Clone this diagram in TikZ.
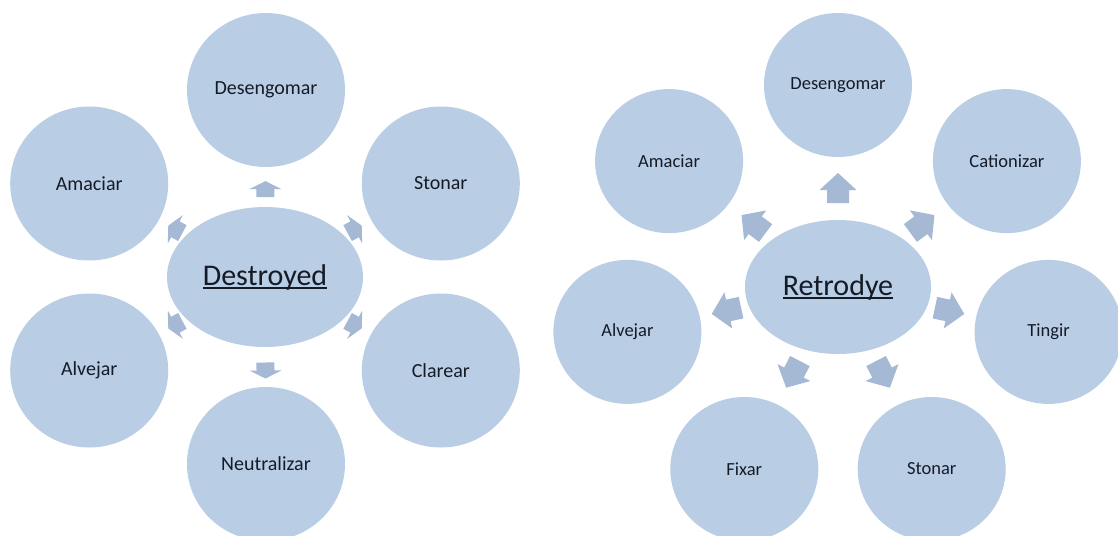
\documentclass[tikz,border=0pt]{standalone}
\usepackage{fontspec}
\setmainfont{Carlito}
\usetikzlibrary{shapes.geometric,calc}
\definecolor{fillc}{HTML}{B9CDE5}
\definecolor{arrc}{HTML}{A5B9D5}
\definecolor{txtc}{HTML}{151B26}
\newcommand\ulword[1]{\setbox0\hbox{#1}\rlap{\rule[-0.14em]{\wd0}{0.065em}}\box0}
\newcommand\placearrow[4]{%
  \path let \p1=($(#2.center)-(#1.center)$), \n1={atan2(\y1,\x1)} in
    ($(#1.center)!#3!(#2.center)$) pic[rotate=\n1] {#4};}
\tikzset{
  bubble/.style={ellipse, fill=fillc, draw=none, inner sep=0pt, text=txtc, align=center},
  lsat/.style={bubble, minimum width=158pt, minimum height=154pt, font=\fontsize{20}{24}\selectfont},
  rsat/.style={bubble, minimum width=148pt, minimum height=144pt, font=\fontsize{18.5}{22}\selectfont},
  lhub/.style={bubble, minimum width=196pt, minimum height=140pt, font=\fontsize{30}{36}\selectfont},
  rhub/.style={bubble, minimum width=186pt, minimum height=134pt, font=\fontsize{30}{36}\selectfont},
  pics/larrow/.style={code={
    \fill[arrc] (-8,-9) -- (0,-9) -- (0,-16) -- (8,0) -- (0,16) -- (0,9) -- (-8,9) -- cycle;}},
  pics/rarrow/.style={code={
    \fill[arrc] (-15,-11) -- (-2,-11) -- (-2,-18.5) -- (15,0) -- (-2,18.5) -- (-2,11) -- (-15,11) -- cycle;}}
}
\begin{document}
\begin{tikzpicture}[x=1pt,y=-1pt]
\useasboundingbox[fill=white] (0,0) rectangle (1118,535);
\clip (0,0) rectangle (1118,535);

% ---------- left diagram ----------
\node[lhub] (lc) at (265,277) {\ulword{Destroyed}};
\node[lsat] (ldes) at (266,90)    {Desengomar};
\node[lsat] (lsto) at (440.8,183.5) {Stonar};
\node[lsat] (lcla) at (440.8,370.5) {Clarear};
\node[lsat] (lneu) at (266,464)   {Neutralizar};
\node[lsat] (lalv) at (89.2,370.5) {Alvejar};
\node[lsat] (lama) at (89.2,183.5) {Amaciar};

\placearrow{lc}{ldes}{0.47}{larrow}
\placearrow{lc}{lneu}{0.50}{larrow}
\placearrow{lc}{lsto}{0.51}{larrow}
\placearrow{lc}{lcla}{0.51}{larrow}
\placearrow{lc}{lalv}{0.51}{larrow}
\placearrow{lc}{lama}{0.51}{larrow}

% ---------- right diagram ----------
\node[rhub] (rc) at (838,287) {\ulword{Retrodye}};
\node[rsat] (rdes) at (838,85)      {Desengomar};
\node[rsat] (rcat) at (1006.9,161.1) {Cationizar};
\node[rsat] (rtin) at (1048.6,331.9) {Tingir};
\node[rsat] (rsto) at (931.7,469)   {Stonar};
\node[rsat] (rfix) at (744.3,469)   {Fixar};
\node[rsat] (ralv) at (627.4,331.9) {Alvejar};
\node[rsat] (rama) at (669.1,161.1) {Amaciar};

\placearrow{rc}{rdes}{0.49}{rarrow}
\placearrow{rc}{rcat}{0.50}{rarrow}
\placearrow{rc}{rama}{0.50}{rarrow}
\placearrow{rc}{rtin}{0.53}{rarrow}
\placearrow{rc}{ralv}{0.53}{rarrow}
\placearrow{rc}{rsto}{0.48}{rarrow}
\placearrow{rc}{rfix}{0.48}{rarrow}
\end{tikzpicture}
\end{document}
